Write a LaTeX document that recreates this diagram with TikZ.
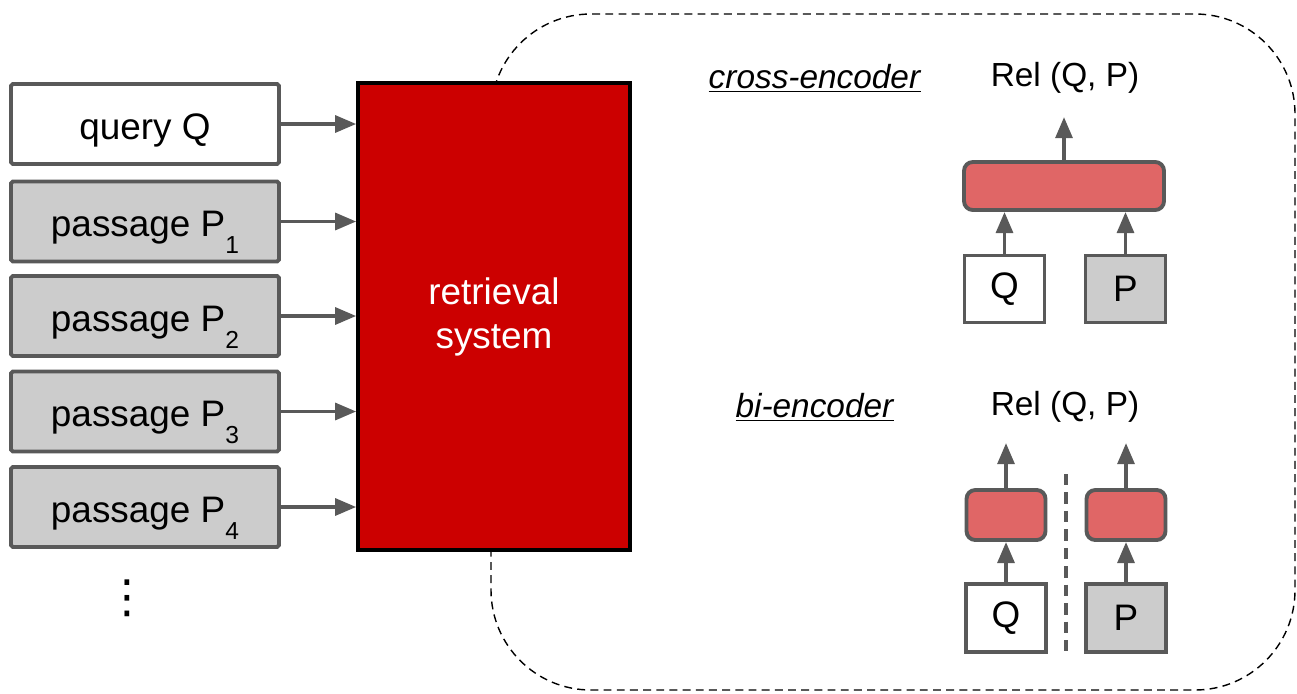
\documentclass[tikz,border=0pt]{standalone}
\usepackage{fontspec}
\setmainfont{Liberation Sans}
\newfontfamily\dotsfont{DejaVu Sans}
\usepackage{tikz}
\usetikzlibrary{arrows.meta,positioning}
\definecolor{edgegray}{HTML}{595959}
\definecolor{boxgray}{HTML}{CCCCCC}
\definecolor{retred}{HTML}{CC0000}
\definecolor{encred}{HTML}{E06666}
\newcommand{\passub}[1]{\raisebox{-0.45em}[0pt][0pt]{\fontsize{14}{14}\selectfont #1}}

\begin{document}
\begin{tikzpicture}[x=0.02cm,y=-0.02cm,
	inbox/.style={draw=edgegray,line width=2.2pt,rounded corners=1pt,minimum width=5.36cm,minimum height=1.6cm,inner sep=0pt,text height=22pt,text depth=4.4pt,font=\fontsize{21}{24}\selectfont},
	passbox/.style={inbox,fill=boxgray},
	retbox/.style={draw=black,line width=2pt,fill=retred,text=white,align=center,minimum width=5.44cm,minimum height=9.34cm,font=\fontsize{21}{25}\selectfont},
	encbox/.style={draw=edgegray,fill=encred,line width=2.2pt,rounded corners=5pt,inner sep=0pt},
	tokbox/.style={draw=edgegray,line width=2.2pt,inner sep=0pt,minimum width=1.6cm,minimum height=1.34cm,font=\fontsize{21}{24}\selectfont},
	lab/.style={inner sep=0pt,font=\fontsize{19}{22}\selectfont},
	arr/.style={draw=edgegray,line width=2.2pt,-{Triangle[length=12pt,width=9.5pt]}},
	frame/.style={draw=black,line width=0.8pt,dash pattern=on 4.5pt off 3pt,rounded corners=2cm},
	split/.style={draw=edgegray,line width=2pt,dash pattern=on 6.5pt off 4pt}]
	\useasboundingbox (0,0) rectangle (1297,693);
	\draw[frame] (491,14) rectangle (1295,690);

	% inputs and retrieval system
	\node[inbox,fill=white] (query) at (145,124) {query Q};
	\foreach \i/\y in {1/221.5,2/316,3/411.5,4/507}
		\node[passbox] (p\i) at (145,\y) {passage P\passub{\i}};
	\node[inner sep=0pt,font=\dotsfont\fontsize{26}{28}\selectfont] (more) at (127,598) {⋮};
	\node[retbox] (ret) at (494,316.5) {retrieval\\system};
	\draw[arr] (query.east) -- (query.east -| ret.west);
	\foreach \i in {1,...,4}
		\draw[arr] (p\i.east) -- (p\i.east -| ret.west);

	% cross-encoder
	\node[lab] (crossname) at (815,78) {\underline{\textit{cross-encoder}}};
	\node[lab] (crossrel) at (1065,78) {Rel (Q, P)};
	\node[encbox,minimum width=4cm,minimum height=0.96cm] (crossenc) at (1064,186) {};
	\node[tokbox,fill=white] (cq) at (1004.5,289) {Q};
	\node[tokbox,fill=boxgray] (cp) at (1125.5,289) {P};
	\coordinate (crosstop) at (1064,117);
	\draw[arr] (crossenc.north) -- (crosstop);
	\draw[arr] (cq.north) -- (cq.north |- crossenc.south);
	\draw[arr] (cp.north) -- (cp.north |- crossenc.south);

	% bi-encoder
	\node[lab] (biname) at (815,407) {\underline{\textit{bi-encoder}}};
	\node[lab] (birel) at (1065,407) {Rel (Q, P)};
	\node[encbox,minimum width=1.58cm,minimum height=1cm] (bq) at (1006,515) {};
	\node[encbox,minimum width=1.58cm,minimum height=1cm] (bp) at (1126,515) {};
	\node[tokbox,fill=white,minimum height=1.36cm] (bqin) at (1006,618) {Q};
	\node[tokbox,fill=boxgray,minimum height=1.36cm] (bpin) at (1126,618) {P};
	\coordinate (bqtop) at (1006,443);
	\coordinate (bptop) at (1126,443);
	\draw[arr] (bq.north) -- (bqtop);
	\draw[arr] (bp.north) -- (bptop);
	\draw[arr] (bqin.north) -- (bq.south);
	\draw[arr] (bpin.north) -- (bp.south);
	\coordinate (splittop) at (1066,474);
	\coordinate (splitbot) at (1066,657);
	\draw[split] (splittop) -- (splitbot);
\end{tikzpicture}
\end{document}
